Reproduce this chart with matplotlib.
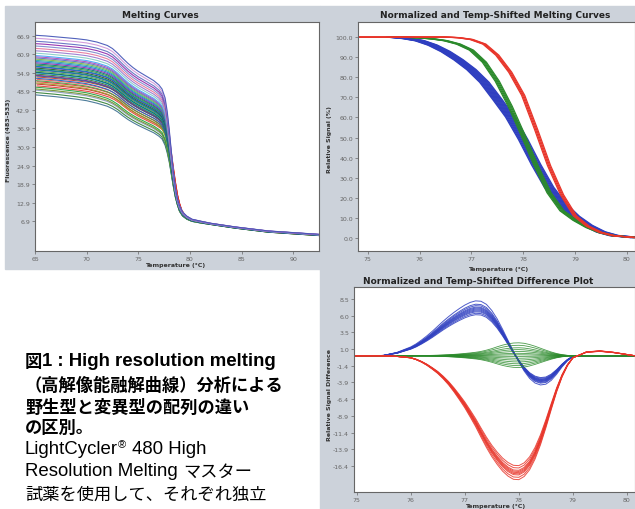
import numpy as np
import matplotlib
matplotlib.use('Agg')
import matplotlib.pyplot as plt
from matplotlib.patches import Rectangle

W, H = 635, 510

# ---- panel 1: raw melting curves (top / bottom envelope)
melt_temp = [65, 66, 67, 68, 69, 70, 71, 72, 72.5, 73, 73.5, 74, 74.5, 75, 75.5, 76, 76.5, 77,
             77.3, 77.6, 77.8, 78.0, 78.2, 78.4, 78.6, 78.8, 79.0, 79.3, 79.7, 80.2, 81, 82,
             84.4, 87.6, 92.5]
melt_top = [67.1, 66.9, 66.6, 66.3, 66.0, 65.6, 64.9, 63.8, 62.8, 61.3, 59.6, 58.0, 56.6, 55.4,
            54.4, 53.4, 52.4, 51.0, 49.7, 46.8, 42.5, 36.5, 29.5, 23.0, 17.5, 14.0, 11.8, 9.8,
            8.5, 7.5, 6.9, 6.2, 5.0, 3.7, 2.6]
melt_low = [47.8, 47.5, 47.2, 46.8, 46.4, 45.9, 45.1, 44.1, 43.3, 42.3, 41.0, 39.8, 38.8, 37.9,
            37.1, 36.3, 35.5, 34.4, 33.5, 31.4, 29.0, 26.0, 22.0, 18.0, 14.5, 12.0, 10.0, 8.5,
            7.5, 6.8, 6.3, 5.8, 4.6, 3.3, 2.2]
melt_weight = [0.0, 0.04, 0.08, 0.1, 0.13, 0.15, 0.18, 0.2, 0.22, 0.24, 0.26, 0.28, 0.3, 0.32,
               0.33, 0.35, 0.37, 0.38, 0.4, 0.42, 0.43, 0.45, 0.47, 0.48, 0.5, 0.52, 0.54, 0.56,
               0.58, 0.6, 0.62, 0.64, 0.66, 0.7, 0.74, 0.78, 0.82, 0.86, 0.9, 0.95, 1.0]
melt_colors = ['#3a6e8f', '#2e7d32', '#8899bb', '#6b8e23', '#1f9e3a', '#e53935', '#c62828',
               '#9e9d24', '#e53935', '#43a047', '#ef5350', '#1565c0', '#d32f2f', '#00897b',
               '#7b1fa2', '#2e7d32', '#1e88e5', '#00695c', '#43a047', '#3949ab', '#00838f',
               '#1b5e20', '#5e35b1', '#0277bd', '#388e3c', '#00796b', '#8e24aa', '#1976d2',
               '#26a69a', '#7cb342', '#5c6bc0', '#ab47bc', '#42a5f5', '#80cbc4', '#9575cd',
               '#e57399', '#7986cb', '#8e24aa', '#5c6bc0', '#ce93d8', '#3f51b5']
melt_xticks = [65, 70, 75, 80, 85, 90]
melt_yticks = [6.9, 12.9, 18.9, 24.9, 30.9, 36.9, 42.9, 48.9, 54.9, 60.9, 66.9]

# ---- panel 2: normalized curves
norm_temp = [74.8, 75.45, 75.5, 75.75, 76.0, 76.25, 76.5, 76.75, 77.0, 77.25, 77.5, 77.75,
             78.0, 78.25, 78.5, 78.75, 79.0, 79.25, 79.5, 79.75, 80.16]
norm_blue = [100, 100, 99.9, 99.3, 98.2, 96.0, 92.8, 88.7, 83.8, 77.5, 69, 60.2,
             49, 36.5, 25.2, 16.8, 10.7, 6.2, 3.0, 1.2, 0.2]
norm_green = [100, 100, 100, 99.9, 99.6, 99.1, 98.2, 96.5, 93.5, 87.5, 78, 65.5,
              51, 36, 22.5, 13.5, 8.8, 5.2, 2.6, 1.1, 0.2]
norm_red = [100, 100, 100, 100, 100, 100, 100, 99.7, 98.8, 96.5, 91, 82.5,
            71, 54, 36, 21.5, 11, 5.8, 2.7, 1.1, 0.2]
blue_shift = [-0.09, -0.07, -0.05, -0.03, -0.01, 0.01, 0.03, 0.05, 0.07, 0.09]
green_shift = [-0.04, -0.02, 0.0, 0.02, 0.04]
red_shift = [-0.03, -0.01, 0.01, 0.03]
norm_xticks = [75, 76, 77, 78, 79, 80]
norm_yticks = [0, 10, 20, 30, 40, 50, 60, 70, 80, 90, 100]

# ---- panel 3: difference plot
diff_temp = [74.95, 75.3, 75.5, 75.75,
             76.0, 76.1, 76.2, 76.3, 76.4, 76.5, 76.6, 76.7, 76.8, 76.9,
             77.0, 77.1, 77.2, 77.3, 77.4, 77.5, 77.6, 77.7, 77.8, 77.9,
             78.0, 78.1, 78.2, 78.3, 78.4, 78.5, 78.6, 78.7, 78.8, 78.9,
             79.0, 79.25, 79.5, 79.75, 80.15]
diff_blue = [0, 0, 0.05, 0.45,
             1.15, 1.55, 2.05, 2.6, 3.2, 3.85, 4.5, 5.1, 5.65, 6.15,
             6.6, 6.95, 7.15, 7.1, 6.7, 5.9, 4.8, 3.45, 2.0, 0.55,
             -0.8, -2.0, -2.95, -3.55, -3.8, -3.7, -3.2, -2.4, -1.45, -0.65,
             -0.1, 0, 0, 0, 0]
diff_red = [0, 0, 0, -0.1,
            -0.3, -0.55, -0.9, -1.35, -1.9, -2.5, -3.25, -4.1, -5.1, -6.2,
            -7.35, -8.65, -10.0, -11.5, -12.95, -14.25, -15.35, -16.3, -17.0, -17.45,
            -17.5, -17.05, -16.1, -14.6, -12.6, -10.2, -7.6, -5.1, -3.0, -1.4,
            -0.3, 0.55, 0.7, 0.5, 0.0]
diff_green = [0, 0, 0, 0,
              0, 0, 0.02, 0.04, 0.06, 0.08, 0.11, 0.15, 0.2, 0.26,
              0.33, 0.41, 0.5, 0.62, 0.8, 1.02, 1.28, 1.52, 1.7, 1.82,
              1.85, 1.78, 1.6, 1.36, 1.08, 0.8, 0.54, 0.32, 0.16, 0.06,
              0, 0, 0, 0, 0]
blue_scale = [0.86, 0.89, 0.92, 0.94, 0.96, 0.98, 1.0, 1.02, 1.05, 1.08, 1.15]
red_scale = [0.94, 0.96, 0.98, 0.99, 1.0, 1.01, 1.02, 1.04, 1.06]
green_scale = [1.05, 0.85, 0.65, 0.5, 0.35, 0.2, 0.08, -0.05, -0.2, -0.35, -0.5, -0.65, -0.8, -0.95]
diff_xticks = [75, 76, 77, 78, 79, 80]
diff_yticks = [8.5, 6.0, 3.5, 1.0, -1.5, -4.0, -6.5, -9.0, -11.5, -14.0, -16.5]
diff_ylabels = ['8.5', '6.0', '3.5', '1.0', '-1.4', '-3.9', '-6.4', '-8.9', '-11.4', '-13.9', '-16.4']

# caption: each line is a list of (text, kind) pieces, kind = 'cjk' / 'lat' / 'sup'
caption_lines = [
    [('図', 'cjk'), ('1 : High resolution melting', 'lat')],
    [('（高解像能融解曲線）分析による', 'cjk')],
    [('野生型と変異型の配列の違い', 'cjk')],
    [('の区別。', 'cjk')],
    [('LightCycler', 'lat'), ('®', 'sup'), (' 480 High', 'lat')],
    [('Resolution Melting ', 'lat'), ('マスター', 'cjk')],
    [('試薬を使用して、それぞれ独立', 'cjk')],
]
caption_bold = [True, True, True, True, False, False, False]
caption_y = [362, 385, 407, 428, 450, 472, 495]

BLUE = '#2f3fc0'
GREEN = '#2b8a2b'
RED = '#e8352a'
PANEL = '#ccd2da'
JP = ['Liberation Sans', 'Noto Sans CJK JP']

fig = plt.figure(figsize=(W / 100, H / 100), dpi=100)
fig.patch.set_facecolor('white')


def fx(x):
    return x / W


def fy(y):
    return 1 - y / H


def axes_px(l, t, r, b):
    ax = fig.add_axes([l / W, 1 - b / H, (r - l) / W, (b - t) / H])
    ax.set_zorder(2)
    return ax


def style(ax):
    ax.set_facecolor('white')
    for s in ax.spines.values():
        s.set_color('#666666')
        s.set_linewidth(0.8)
    ax.tick_params(direction='out', length=2, width=0.5, labelsize=4.5,
                   colors='#666666', labelcolor='#666666', pad=1.5)


# gray panels
fig.patches.append(Rectangle((fx(5), fy(270)), fx(320) - fx(5), fy(7) - fy(270),
                             transform=fig.transFigure, color=PANEL, zorder=-10))
fig.patches.append(Rectangle((fx(320), 0), 1 - fx(320), fy(7),
                             transform=fig.transFigure, color=PANEL, zorder=-10))

# panel 1
ax1 = axes_px(35, 23, 319, 252)
style(ax1)
top = np.array(melt_top)
low = np.array(melt_low)
for w, c in zip(melt_weight, melt_colors):
    shift = 0.2 if c in ('#e53935', '#c62828', '#ef5350', '#d32f2f') else 0.0
    ax1.plot(np.array(melt_temp) + shift, low + w * (top - low), color=c, lw=0.8, alpha=0.9)
ax1.set_xlim(65, 92.5)
ax1.set_ylim(-2.8, 71.4)
ax1.set_xticks(melt_xticks)
ax1.set_yticks(melt_yticks)
ax1.set_yticklabels(['%.1f' % v for v in melt_yticks])

# panel 2
ax2 = axes_px(358, 23, 635, 252)
style(ax2)
t2 = np.array(norm_temp)
for s in blue_shift:
    ax2.plot(t2[1:] + s, norm_blue[1:], color=BLUE, lw=1.0)
for s in green_shift:
    ax2.plot(t2[1:] + s, norm_green[1:], color=GREEN, lw=0.9)
for s in red_shift:
    ax2.plot(t2 + s, norm_red, color=RED, lw=0.9)
ax2.set_xlim(74.81, 80.16)
ax2.set_ylim(-6.5, 107.5)
ax2.set_xticks(norm_xticks)
ax2.set_yticks(norm_yticks)
ax2.set_yticklabels(['%.1f' % v for v in norm_yticks])

# panel 3
ax3 = axes_px(354, 288, 635, 493)
style(ax3)
for k in blue_scale:
    ax3.plot(diff_temp, np.array(diff_blue) * k, color=BLUE, lw=0.7, alpha=0.85)
for k in green_scale:
    ax3.plot(diff_temp, np.array(diff_green) * k, color=GREEN, lw=0.6, alpha=0.85)
for k in red_scale:
    ax3.plot(diff_temp, np.array(diff_red) * k, color=RED, lw=0.7, alpha=0.85)
ax3.set_xlim(74.95, 80.15)
ax3.set_ylim(-20.4, 10.3)
ax3.set_xticks(diff_xticks)
ax3.set_yticks(diff_yticks)
ax3.set_yticklabels(diff_ylabels)

# titles and axis labels
tkw = dict(fontsize=6.5, fontweight='bold', color='#222222', ha='center', va='center')
fig.text(fx(160), fy(15), 'Melting Curves', **tkw)
fig.text(fx(495), fy(15), 'Normalized and Temp-Shifted Melting Curves', **tkw)
fig.text(fx(478), fy(282), 'Normalized and Temp-Shifted Difference Plot', **tkw)

lkw = dict(fontsize=4.5, fontweight='bold', color='#333333', ha='center', va='center')
fig.text(fx(175), fy(266), 'Temperature (°C)', **lkw)
fig.text(fx(498), fy(269), 'Temperature (°C)', **lkw)
fig.text(fx(495), fy(507), 'Temperature (°C)', **lkw)
fig.text(fx(9), fy(140), 'Fluorescence (483-533)', rotation=90, **lkw)
fig.text(fx(330), fy(140), 'Relative Signal (%)', rotation=90, **lkw)
fig.text(fx(329), fy(395), 'Relative Signal Difference', rotation=90, **lkw)

# caption, drawn piece by piece so Latin and Japanese get their own sizes
renderer = fig.canvas.get_renderer()
sizes = {'cjk': 12.4, 'lat': 13.4, 'sup': 8.0}
for pieces, bold, y in zip(caption_lines, caption_bold, caption_y):
    x = 25.0
    for txt, kind in pieces:
        yy = y - 5 if kind == 'sup' else y
        t = fig.text(fx(x), fy(yy), txt, family=JP, fontsize=sizes[kind],
                     fontweight='bold' if bold else 'normal', color='black',
                     ha='left', va='center')
        x = t.get_window_extent(renderer).x1 + (1 if kind == 'sup' else 0)

fig.savefig('out.png', dpi=100, facecolor='white')
